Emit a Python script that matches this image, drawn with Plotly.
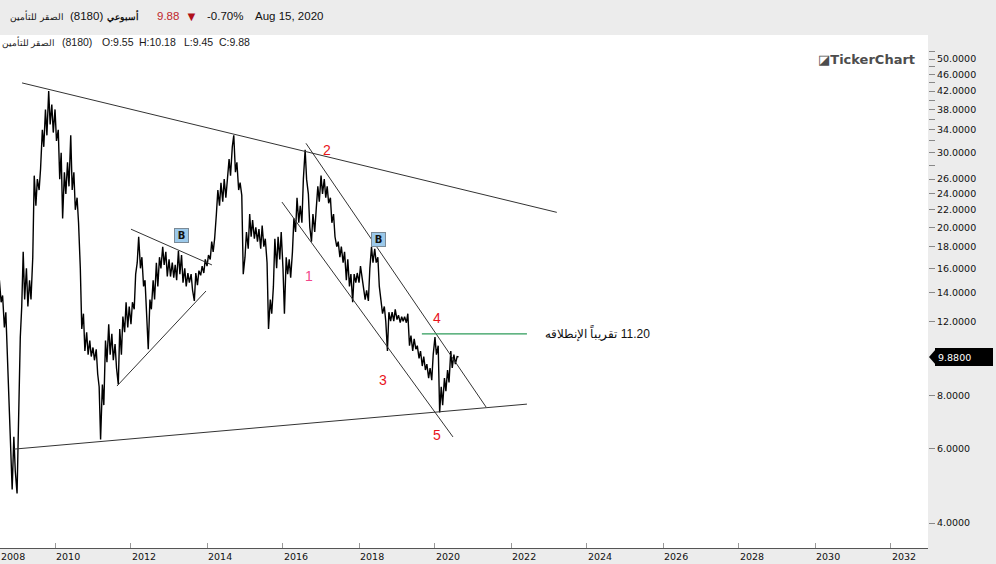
import numpy as np
import pandas as pd
import plotly.graph_objects as go

prices_2008 = [15.0, 13.3, 13.8, 11.6, 12.6, 10.0, 8.0, 6.0, 4.8, 6.4, 5.3]
prices_2009 = [4.7, 7.5, 11.0, 13.0, 17.5, 13.5, 16.0, 13.0, 15.0, 13.5, 17.0, 26.5,
               22.5, 26.0, 24.5, 27.5, 34.0, 31.0, 38.0, 33.0, 42.0, 35.0, 39.0, 33.5]
prices_2010 = [38.0, 32.0, 34.0, 26.0, 30.0, 21.0, 27.0, 24.0, 28.5, 25.0, 33.0, 24.5,
               27.0, 22.0, 23.5, 20.5, 16.0, 11.5, 12.5, 10.2, 11.3, 10.0, 10.8, 9.9]
prices_2011 = [10.4, 9.7, 10.3, 9.0, 8.4, 6.3, 8.5, 7.6, 10.8, 9.6, 11.8, 10.0,
               11.2, 9.7, 10.6, 9.3, 8.5, 11.5, 10.0, 12.3, 11.3, 13.3, 11.6, 13.0]
prices_2012 = [11.8, 13.3, 12.8, 15.5, 16.5, 19.0, 16.0, 17.0, 14.5, 15.0, 12.0, 10.3,
               13.5, 12.8, 15.0, 13.5, 16.5, 14.5, 17.0, 16.0, 18.0, 16.3, 17.5, 15.3]
prices_2013 = [16.8, 15.3, 16.5, 15.2, 16.3, 15.0, 17.6, 15.5, 17.2, 14.8, 16.0, 14.5,
               15.6, 14.8, 15.5, 14.2, 13.4, 15.6, 14.6, 15.8, 15.4, 16.2, 15.6, 16.8]
prices_2014 = [16.2, 17.2, 16.8, 18.5, 17.5, 18.8, 21.5, 24.5, 22.5, 25.5, 23.0, 26.0,
               23.5, 25.5, 29.0, 26.5, 31.0, 33.0, 27.0, 28.5, 24.5, 25.5, 23.8, 15.5]
prices_2015 = [17.0, 19.5, 17.8, 21.5, 19.0, 20.8, 18.8, 20.0, 18.5, 19.8, 17.8, 20.2,
               18.0, 18.8, 16.5, 11.5, 13.5, 12.5, 14.5, 18.8, 16.0, 19.0, 16.8, 19.5]
prices_2016 = [16.0, 12.5, 17.0, 15.5, 16.8, 15.2, 17.5, 21.0, 19.5, 23.5, 20.5, 22.5,
               20.5, 26.0, 30.5, 26.0, 24.0, 20.0, 18.5, 21.5, 19.5, 22.0, 25.0, 23.0]
prices_2017 = [26.5, 24.0, 26.0, 23.5, 25.0, 22.8, 23.5, 20.5, 21.5, 19.0, 18.0, 18.5,
               17.0, 18.0, 16.5, 17.5, 15.0, 16.8, 14.5, 15.5, 13.3, 15.5, 14.8, 15.6]
prices_2018 = [14.8, 16.2, 15.0, 14.0, 13.5, 14.2, 13.4, 16.0, 18.0, 16.5, 17.8, 16.5,
               17.0, 14.5, 13.5, 12.5, 13.0, 12.0, 10.2, 12.6, 12.0, 12.6, 12.0, 12.8]
prices_2019 = [12.1, 12.4, 11.9, 12.3, 12.0, 12.3, 11.9, 12.5, 10.5, 11.1, 10.2, 10.9,
               10.3, 10.5, 9.8, 10.2, 9.4, 9.9, 9.2, 9.5, 8.8, 9.3, 8.7, 10.0]
prices_2020 = [11.0, 10.0, 10.5, 7.3, 8.4, 7.6, 8.8, 8.2, 9.2, 8.6, 10.2, 9.3,
               10.0, 9.5, 9.9, 9.88]

prices = (prices_2008 + prices_2009 + prices_2010 + prices_2011 + prices_2012
          + prices_2013 + prices_2014 + prices_2015 + prices_2016 + prices_2017
          + prices_2018 + prices_2019 + prices_2020)
dates = pd.date_range("2008-07-15", periods=len(prices), freq="SMS")
last_price = 9.88

# trend lines drawn on the chart
line_x0 = ["2009-02-18", "2008-12-02", "2012-01-01", "2011-08-19", "2016-08-09", "2015-12-22"]
line_y0 = [43.9, 5.98, 19.8, 8.43, 31.6, 22.95]
line_x1 = ["2023-03-17", "2022-06-03", "2014-02-17", "2013-12-22", "2021-05-06", "2020-06-22"]
line_y1 = [21.7, 7.64, 16.3, 14.14, 7.52, 6.39]

# launch level
target_price = 11.20
target_x = ["2019-08-28", "2022-06-03"]
target_label = "تقريباً الإنطلاقه\u200e 11.20"

# elliott wave counts
wave_labels = ["1", "2", "3", "4", "5"]
wave_dates = ["2016-09-07", "2017-02-27", "2018-08-19", "2020-01-20", "2020-01-20"]
wave_prices = [15.18, 30.3, 8.66, 12.08, 6.42]
wave_colors = ["#f2468a", "#e8141b", "#e8141b", "#e8141b", "#e8141b"]

# "B" markers
b_dates = ["2013-05-02", "2018-07-11"]
b_prices = [19.08, 18.67]

# axes
x_tick_dates = ["2008-07-21"] + [f"{y}-01-01" for y in range(2010, 2033, 2)]
x_tick_text = ["2008"] + [str(y) for y in range(2010, 2033, 2)]
y_major = [4, 6, 8, 12, 14, 16, 18, 20, 22, 24, 26, 30, 34, 38, 42, 46, 50]
y_minor = [28, 32, 36, 40, 44, 48, 52]

Y_MIN, Y_MAX = 0.54296, 1.75572   # log10 range
W, H = 996, 564
L, R, T, B = 0, 68, 35, 16
PW, PH = W - L - R, H - T - B


def px(x):
    return x / PW


def py(y):
    return (H - B - y) / PH


fig = go.Figure()

fig.add_trace(go.Scatter(x=dates, y=prices, mode="lines",
                         line=dict(color="#000000", width=1.4), hoverinfo="skip"))

lx, ly = [], []
for a, b, c, d in zip(line_x0, line_y0, line_x1, line_y1):
    lx += [a, c, None]
    ly += [b, d, None]
fig.add_trace(go.Scatter(x=lx, y=ly, mode="lines",
                         line=dict(color="#333333", width=1), hoverinfo="skip"))

fig.add_trace(go.Scatter(x=target_x, y=[target_price, target_price], mode="lines",
                         line=dict(color="#2e9b5a", width=1.2), hoverinfo="skip"))

fig.add_trace(go.Scatter(x=wave_dates, y=wave_prices, mode="text", text=wave_labels,
                         textposition="middle center",
                         textfont=dict(family="Liberation Sans", size=14, color=wave_colors),
                         hoverinfo="skip"))

annotations = []
for d, p in zip(b_dates, b_prices):
    annotations.append(dict(x=d, y=np.log10(p), xref="x", yref="y", text="<b>B</b>",
                            showarrow=False, font=dict(family="DejaVu Sans", size=10, color="#111"),
                            bgcolor="#9cc9ea", bordercolor="#7b8a96", borderwidth=1,
                            borderpad=1, width=11, height=11))

# right end of the label sits near the 2025.7 mark
annotations.append(dict(x="2025-09-17", y=np.log10(target_price), xref="x", yref="y",
                        text=target_label, showarrow=False, xanchor="right",
                        font=dict(family="Liberation Sans", size=12, color="#111")))

# header bar: (text, x in px, anchor, size, colour)
header = [
    ("الصقر للتأمين", 8, "left", 9, "#111"),
    ("(8180)", 68, "left", 11.5, "#111"),
    ("<b>أسبوعي</b>", 141, "right", 8.5, "#111"),
    ("9.88", 155, "left", 11.5, "#c0272d"),
    ("▼", 183, "left", 13, "#b0101a"),
    ("-0.70%", 205, "left", 11.5, "#111"),
    ("Aug 15, 2020", 253, "left", 11.5, "#111"),
]
for text, x, anchor, size, color in header:
    annotations.append(dict(x=px(x), y=py(16), xref="paper", yref="paper", text=text,
                            showarrow=False, xanchor=anchor, yanchor="middle",
                            font=dict(family="Liberation Sans", size=size, color=color)))

info = [
    ("الصقر للتأمين", 57, "right", 8.5), ("(8180)", 60, "left", 10.5),
    ("O:9.55", 100, "left", 10.5), ("H:10.18", 137, "left", 10.5),
    ("L:9.45", 182, "left", 10.5), ("C:9.88", 217, "left", 10.5),
]
for text, x, anchor, size in info:
    annotations.append(dict(x=px(x), y=py(42), xref="paper", yref="paper", text=text,
                            showarrow=False, xanchor=anchor, yanchor="middle",
                            font=dict(family="Liberation Sans", size=size, color="#1a1a1a")))

annotations.append(dict(x=px(816), y=py(59), xref="paper", yref="paper",
                        text="◪<b>TickerChart</b>", showarrow=False, xanchor="left",
                        yanchor="middle",
                        font=dict(family="DejaVu Sans", size=13, color="#4d4d4d")))

# last price tag on the price axis
annotations.append(dict(x=px(935), y=np.log10(last_price), xref="paper", yref="y",
                        text="9.8800", showarrow=False, xanchor="left", yanchor="middle",
                        align="left", bgcolor="#000000", bordercolor="#000000",
                        borderwidth=1, borderpad=2, width=52, height=12,
                        font=dict(family="DejaVu Sans", size=9.5, color="#ffffff")))

yc = (np.log10(last_price) - Y_MIN) / (Y_MAX - Y_MIN)
dy = 8 / PH
shapes = [dict(type="path", xref="paper", yref="paper",
               path=f"M {px(929)},{yc} L {px(936)},{yc + dy} L {px(936)},{yc - dy} Z",
               fillcolor="#000000", line=dict(width=0))]

y_vals = y_major + y_minor
y_text = [f"{v:.4f}" for v in y_major] + ["" for v in y_minor]

fig.update_layout(
    width=W, height=H,
    margin=dict(l=L, r=R, t=T, b=B),
    paper_bgcolor="#ececec",
    plot_bgcolor="#ffffff",
    showlegend=False,
    hovermode=False,
    annotations=annotations,
    shapes=shapes,
    xaxis=dict(type="date", range=["2008-07-21", "2032-12-22"],
               tickmode="array", tickvals=x_tick_dates, ticktext=x_tick_text,
               ticks="inside", ticklen=5, tickcolor="#999999",
               ticklabelposition="outside right",
               showline=True, linecolor="#555555", linewidth=1,
               showgrid=False, zeroline=False,
               tickfont=dict(family="DejaVu Sans", size=9.5, color="#111")),
    yaxis=dict(type="log", side="right", range=[Y_MIN, Y_MAX],
               tickmode="array", tickvals=y_vals, ticktext=y_text,
               ticks="outside", ticklen=6, tickcolor="#888888",
               showline=False, showgrid=False, zeroline=False,
               tickfont=dict(family="DejaVu Sans", size=9.5, color="#111")),
)

fig.write_html("out.html", config={"displayModeBar": False},
               post_script="document.body.style.margin='0px';"
                           "document.body.style.overflow='hidden';")
